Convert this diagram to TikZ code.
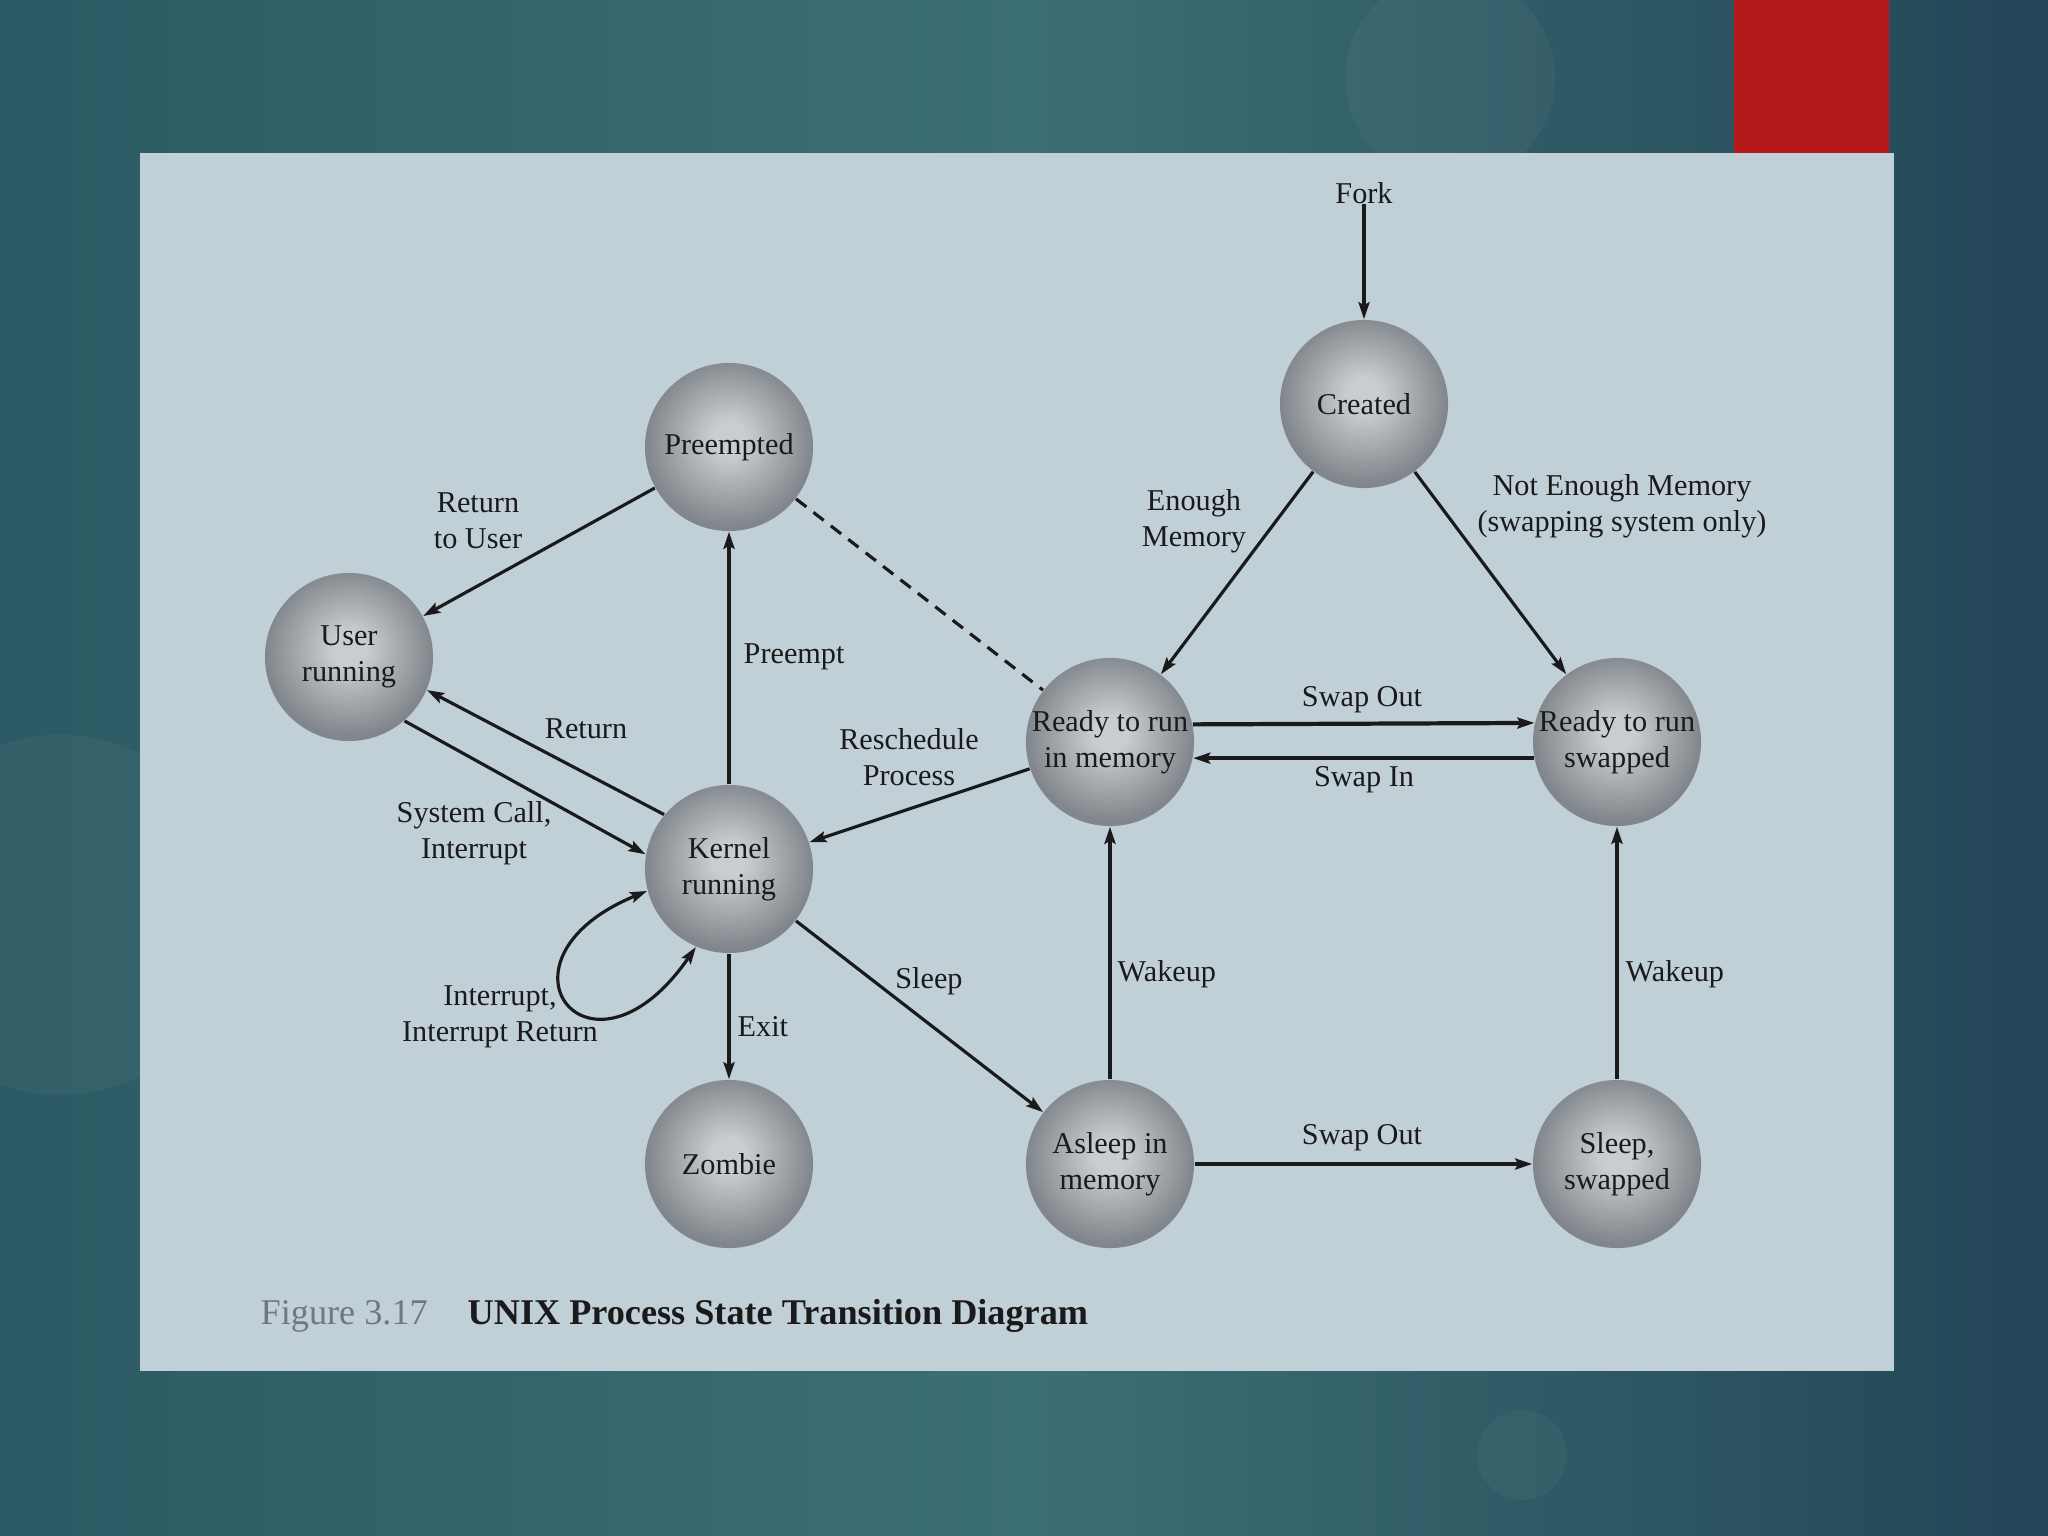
\documentclass[tikz,border=0pt]{standalone}
\usepackage{fontspec}
\setmainfont{Liberation Serif}
\usetikzlibrary{arrows.meta}
\definecolor{bgL}{HTML}{2C5A64}
\definecolor{bgM}{HTML}{3C6F73}
\definecolor{bgR}{HTML}{234658}
\definecolor{panel}{HTML}{C1CFD6}
\definecolor{redbar}{HTML}{B3191B}
\definecolor{sphin}{HTML}{CACDD0}
\definecolor{sphout}{HTML}{80868B}
\definecolor{ink}{HTML}{1A1A1A}
\definecolor{capgray}{HTML}{6E787E}
\pgfdeclareradialshading{sphere}{\pgfpoint{0bp}{3bp}}{color(0bp)=(sphin); color(5bp)=(sphin); color(25bp)=(sphout); color(50bp)=(sphout)}
\begin{document}
\begin{tikzpicture}[x=0.01cm,y=-0.01cm,
  state/.style={circle, minimum size=1.68cm, inner sep=0pt, shade, shading=sphere, align=center, text=ink, font=\fontsize{8.6}{10.2}\selectfont},
  lab/.style={align=center, text=ink, inner sep=0pt, font=\fontsize{8.6}{10.2}\selectfont},
  tipA/.tip={Stealth[length=0.17cm,width=0.11cm,inset=0.03cm]},
  tr/.style={draw=ink, line width=0.9pt, -tipA},
  trthick/.style={draw=ink, line width=1.2pt, -tipA},
  dashline/.style={draw=ink, line width=0.9pt, dash pattern=on 0.13cm off 0.09cm}
]
\useasboundingbox (0,0) rectangle (2048,1536);
% background
\shade[left color=bgL, right color=bgR, middle color=bgM] (0,0) rectangle (2048,1536);
\fill[white, opacity=0.035] (1450,78) circle (1.05cm);
\fill[white, opacity=0.035] (60,915) circle (1.8cm);
\fill[white, opacity=0.03] (1522,1455) circle (0.45cm);
\fill[redbar] (1734,0) rectangle (1889,153);
\fill[panel] (140,153) rectangle (1894,1371);

% states
\node[state] (pre)  at (729,447)  {Preempted};
\node[state] (cre)  at (1364,404) {Created};
\node[state] (usr)  at (349,657)  {User\\running};
\node[state] (ker)  at (729,869)  {Kernel\\running};
\node[state] (rmem) at (1110,742) {Ready to run\\in memory};
\node[state] (rsw)  at (1617,742) {Ready to run\\swapped};
\node[state] (zom)  at (729,1164) {Zombie};
\node[state] (asl)  at (1110,1164){Asleep in\\memory};
\node[state] (ssw)  at (1617,1164){Sleep,\\swapped};
\node[lab] (fork) at (1364,193) {Fork};

% transitions
\draw[trthick] (fork) -- (cre);
\draw[tr] (pre) -- (usr);
\draw[trthick] (ker) -- (pre);
\draw[dashline] (pre) -- (rmem);
\draw[tr] (ker.140) -- (usr.-23);
\draw[tr] (usr.-49) -- (ker.170);
\draw[tr] (rmem) -- (ker);
\draw[draw=ink, line width=0.9pt, tipA-tipA] (ker.195) .. controls (480,960) and (590,1100) .. (ker.247);
\draw[trthick] (ker) -- (zom);
\draw[tr] (ker) -- (asl);
\draw[trthick] (asl) -- (rmem);
\draw[tr] (cre) -- (rmem);
\draw[tr] (cre) -- (rsw);
\draw[trthick] (rmem.12.4) -- (rsw.167.6);
\draw[trthick] (rsw.-169) -- (rmem.-11);
\draw[trthick] (asl) -- (ssw);
\draw[trthick] (ssw) -- (rsw);

% labels
\node[lab] (lretu) at (478,521) {Return\\to User};
\node[lab, anchor=west] (lpreempt) at (743,657) {Preempt};
\node[lab] (lreturn) at (586,729) {Return};
\node[lab] (lresch) at (909,757) {Reschedule\\Process};
\node[lab] (lsys) at (474,833) {System Call,\\Interrupt};
\node[lab] (lint) at (500,1017) {Interrupt,\\Interrupt Return};
\node[lab, anchor=west] (lexit) at (737,1027) {Exit};
\node[lab] (lsleep) at (929,981) {Sleep};
\node[lab, anchor=west] (lwak1) at (1117,974) {Wakeup};
\node[lab, anchor=west] (lwak2) at (1625,974) {Wakeup};
\node[lab] (lso1) at (1362,700) {Swap Out};
\node[lab] (lsi) at (1364,780) {Swap In};
\node[lab] (lso2) at (1362,1138) {Swap Out};
\node[lab] (lenough) at (1194,521) {Enough\\Memory};
\node[lab] (lnot) at (1622,506) {Not Enough Memory\\(swapping system only)};

% caption
\node[anchor=base west, inner sep=0pt, text=capgray, font=\fontsize{10.3}{12}\selectfont] (capnum) at (260,1324) {Figure 3.17};
\node[anchor=base west, inner sep=0pt, text=ink, font=\bfseries\fontsize{10.3}{12}\selectfont] (captitle) at (467,1324) {UNIX Process State Transition Diagram};
\end{tikzpicture}
\end{document}
